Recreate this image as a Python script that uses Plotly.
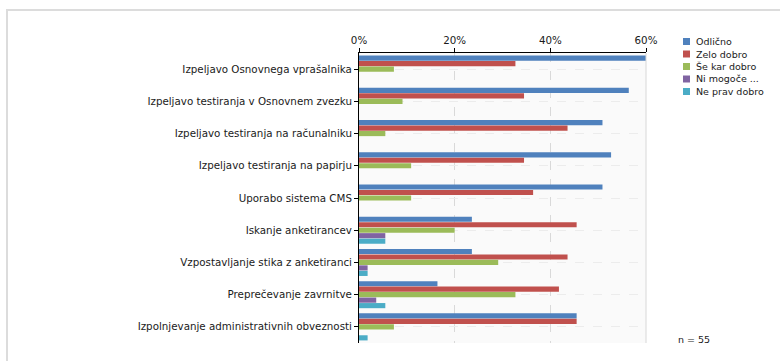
import plotly.graph_objects as go

CATEGORIES = [
    "Izpeljavo Osnovnega vprašalnika",
    "Izpeljavo testiranja v Osnovnem zvezku",
    "Izpeljavo testiranja na računalniku",
    "Izpeljavo testiranja na papirju",
    "Uporabo sistema CMS",
    "Iskanje anketirancev",
    "Vzpostavljanje stika z anketiranci",
    "Preprečevanje zavrnitve",
    "Izpolnjevanje administrativnih obveznosti",
]
SERIES = ["Odlično", "Zelo dobro", "Še kar dobro", "Ni mogoče ...", "Ne prav dobro"]
COLORS = ["#4F81BD", "#C0504D", "#9BBB59", "#8064A2", "#4BACC6"]

# % of respondents (n = 55)
ODLICNO = [60.0, 56.4, 50.9, 52.7, 50.9, 23.6, 23.6, 16.4, 45.5]
ZELO_DOBRO = [32.7, 34.5, 43.6, 34.5, 36.4, 45.5, 43.6, 41.8, 45.5]
SE_KAR_DOBRO = [7.3, 9.1, 5.5, 10.9, 10.9, 20.0, 29.1, 32.7, 7.3]
NI_MOGOCE = [0, 0, 0, 0, 0, 5.5, 1.8, 3.6, 0]
NE_PRAV_DOBRO = [0, 0, 0, 0, 0, 5.5, 1.8, 5.5, 1.8]
VALUES = [ODLICNO, ZELO_DOBRO, SE_KAR_DOBRO, NI_MOGOCE, NE_PRAV_DOBRO]

X_TICKS = [0, 20, 40, 60]
X_TICK_TEXT = ["0%", "20%", "40%", "60%"]
N_LABEL = "n = 55"

FONT = "DejaVu Sans"
FS = 10.3
W, H = 780, 361
L, R, T, B = 359, 646, 53, 343   # plot area in pixels


def px(x, y):
    """pixel -> paper coords"""
    return (x - L) / (R - L), (B - y) / (B - T)


fig = go.Figure()
for name, vals, col in zip(SERIES, VALUES, COLORS):
    fig.add_trace(go.Bar(y=CATEGORIES, x=vals, name=name, orientation="h",
                         marker=dict(color=col, line_width=0), showlegend=False))

# compact legend (native one can't go below 19px per row)
shapes, annots = [], []
for i, (name, col) in enumerate(zip(SERIES, COLORS)):
    yc = 41.5 + i * 12.5
    x0, y0 = px(683, yc - 3.5)
    x1, y1 = px(690, yc + 3.5)
    shapes.append(dict(type="rect", xref="paper", yref="paper", x0=x0, x1=x1, y0=y0, y1=y1,
                       fillcolor=col, line_width=0))
    tx, ty = px(694, yc)
    annots.append(dict(text=name, xref="paper", yref="paper", x=tx, y=ty, xanchor="left",
                       yanchor="middle", showarrow=False, font=dict(size=9.5, color="#1a1a1a")))

nx_, ny_ = px(676, 339)
annots.append(dict(text=N_LABEL, xref="paper", yref="paper", x=nx_, y=ny_, xanchor="left",
                   yanchor="middle", showarrow=False, font=dict(size=9.5, color="#1a1a1a")))

# light frame round the chart (top + left edge visible)
fx0, fy0 = px(7, 10)
fx1, fy1 = px(W + 5, H + 5)
shapes.append(dict(type="rect", xref="paper", yref="paper", x0=fx0, y0=fy1, x1=fx1, y1=fy0,
                   line=dict(color="#dcdcdc", width=2), layer="below"))
# right edge of the plot area
shapes.append(dict(type="line", xref="x domain", yref="y domain", x0=1, x1=1, y0=0, y1=1,
                   line=dict(color="#d8d8d8", width=1)))

fig.update_layout(
    width=W, height=H,
    margin=dict(l=L, r=W - R, t=T, b=H - B, pad=0),
    paper_bgcolor="white", plot_bgcolor="#fafafa",
    font=dict(family=FONT, size=FS, color="#1a1a1a"),
    barmode="group", bargap=0.15, bargroupgap=0.06,
    shapes=shapes, annotations=annots,
    xaxis=dict(side="top", range=[0, 60], tickvals=X_TICKS, ticktext=X_TICK_TEXT,
               ticks="outside", ticklen=4, tickcolor="black",
               showline=True, linecolor="black", linewidth=1,
               showgrid=True, gridcolor="#d9d9d9", griddash="dash", zeroline=False),
    yaxis=dict(autorange="reversed", ticks="outside", ticklen=4, tickcolor="black",
               showline=True, linecolor="black", linewidth=1,
               showgrid=True, gridcolor="#ececec", griddash="dash"),
)

fig.write_html("out.html", config={"displayModeBar": False},
               post_script="document.body.style.margin='0';")
